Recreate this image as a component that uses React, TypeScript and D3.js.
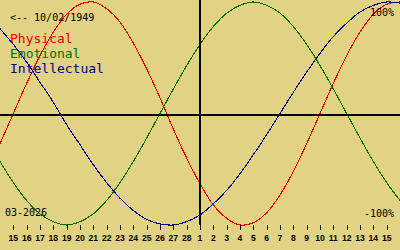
import React from "react";
import * as d3 from "d3";

// Day labels for the tick marks (15 Feb .. 15 Mar 2026)
const dayLabels = [
  "15", "16", "17", "18", "19", "20", "21", "22", "23", "24", "25", "26", "27", "28",
  "1", "2", "3", "4", "5", "6", "7", "8", "9", "10", "11", "12", "13", "14", "15",
];

// Daily values from 14 Feb to 16 Mar (one extra day on each edge)
const physical = [
  -0.27, 0, 0.27, 0.52, 0.73, 0.89, 0.98, 1.0, 0.94, 0.82, 0.63, 0.4, 0.14, -0.14, -0.4,
  -0.63, -0.82, -0.94, -1.0, -0.98, -0.89, -0.73, -0.52, -0.27, 0, 0.27, 0.52, 0.73, 0.89,
  0.98, 1.0,
];
const emotional = [
  -0.43, -0.62, -0.78, -0.9, -0.97, -1.0, -0.97, -0.9, -0.78, -0.62, -0.43, -0.22, 0, 0.22,
  0.43, 0.62, 0.78, 0.9, 0.97, 1.0, 0.97, 0.9, 0.78, 0.62, 0.43, 0.22, 0, -0.22, -0.43,
  -0.62, -0.78,
];
const intellectual = [
  0.76, 0.62, 0.46, 0.28, 0.1, -0.1, -0.28, -0.46, -0.62, -0.76, -0.87, -0.95, -0.99, -1.0,
  -0.97, -0.91, -0.81, -0.69, -0.54, -0.37, -0.19, 0, 0.19, 0.37, 0.54, 0.69, 0.81, 0.91,
  0.97, 1.0, 0.99,
];

const seriesNames = ["Physical", "Emotional", "Intellectual"];
const seriesColors = ["#ee0000", "#007000", "#000088"];
const birthLabel = "<-- 10/02/1949";
const monthLabel = "03-2026";
const topLabel = "100%";
const bottomLabel = "-100%";

const W = 400;
const H = 250;

export default function App() {
  const x = d3.scaleLinear().domain([0, physical.length - 1]).range([0, W]);
  const y = d3.scaleLinear().domain([-1, 1]).range([225, 2]);
  const line = d3
    .line<number>()
    .x((_, i) => x(i))
    .y((v) => y(v))
    .curve(d3.curveCatmullRom);
  const series = [physical, emotional, intellectual];
  const mono = "'DejaVu Sans Mono', monospace";
  const axisY = 115;
  const axisX = x(15);

  return (
    <div style={{ position: "fixed", left: 0, top: 0 }}>
      <svg width={W} height={H} style={{ display: "block" }}>
        <rect x={0} y={0} width={W} height={H} fill="#e1d284" />
        {series.map((s, k) => (
          <path
            key={k}
            d={line(s) || ""}
            fill="none"
            stroke={seriesColors[k]}
            strokeWidth={1.1}
            shapeRendering="crispEdges"
          />
        ))}
        <line x1={0} x2={W} y1={axisY} y2={axisY} stroke="#000" strokeWidth={2} />
        <line x1={axisX} x2={axisX} y1={0} y2={225} stroke="#000" strokeWidth={2} />
        {dayLabels.map((d, i) => (
          <g key={i} transform={`translate(${x(i + 1)},0)`}>
            <line x1={0.5} x2={0.5} y1={225} y2={230} stroke="#000" strokeWidth={1} shapeRendering="crispEdges" />
            <text
              y={241}
              textAnchor="middle"
              fontFamily="'Liberation Sans', Arial, sans-serif"
              fontWeight="bold"
              fontSize={8.6}
              fill="#000"
            >
              {d}
            </text>
          </g>
        ))}
        <text x={10} y={20.5} fontFamily={mono} fontSize={10} fill="#000">
          {birthLabel}
        </text>
        {seriesNames.map((n, k) => (
          <text key={n} x={10} y={42.5 + k * 15} fontFamily={mono} fontSize={13} fill={seriesColors[k]}>
            {n}
          </text>
        ))}
        <text x={394} y={16} textAnchor="end" fontFamily={mono} fontSize={10} fill="#000">
          {topLabel}
        </text>
        <text x={394} y={217} textAnchor="end" fontFamily={mono} fontSize={10} fill="#000">
          {bottomLabel}
        </text>
        <text x={5} y={216} fontFamily={mono} fontSize={10} fill="#000">
          {monthLabel}
        </text>
      </svg>
    </div>
  );
}
